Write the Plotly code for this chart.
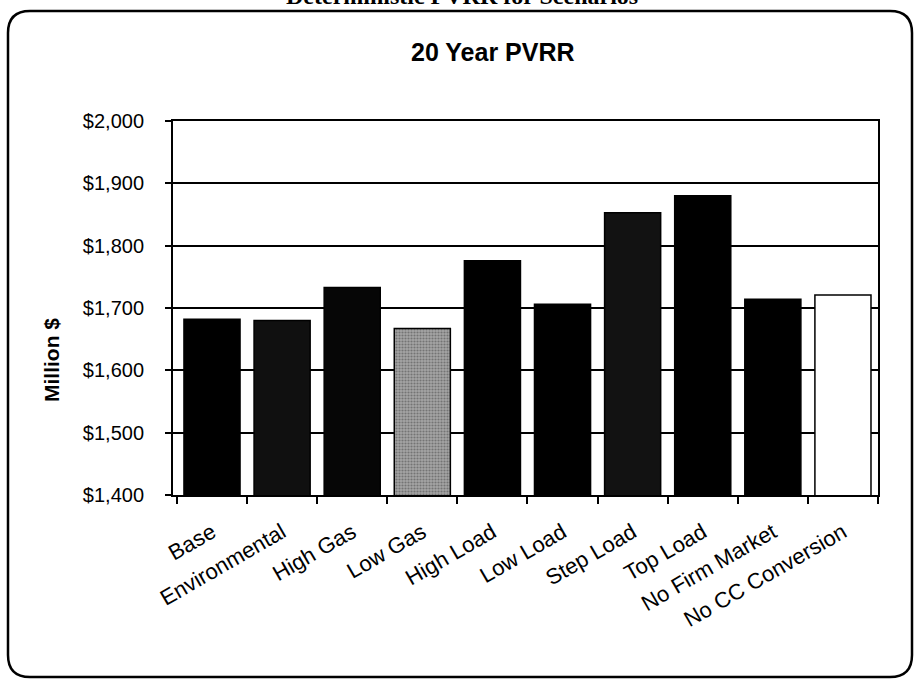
import plotly.graph_objects as go

# Scenario results (million $)
scenarios = ["Base", "Environmental", "High Gas", "Low Gas", "High Load",
             "Low Load", "Step Load", "Top Load", "No Firm Market", "No CC Conversion"]
pvrr = [1682, 1680, 1733, 1667, 1776, 1706, 1853, 1880, 1714, 1721]
bar_colors = ["#000000", "#101010", "#060606", "#a4a4a4", "#000000",
              "#000000", "#121212", "#000000", "#000000", "#ffffff"]
bar_patterns = ["", "", "", ".", "", "", "", "", "", ""]

y_ticks = [1400, 1500, 1600, 1700, 1800, 1900, 2000]
y_tick_text = ["$1,400", "$1,500", "$1,600", "$1,700", "$1,800", "$1,900", "$2,000"]

W, H = 917, 681
L, R, T, B = 173, 878, 121, 495  # plot area edges in pixels


def px(x):
    return (x - L) / (R - L)


def py(y):
    return (B - y) / (B - T)


fig = go.Figure()
fig.add_trace(go.Bar(
    x=scenarios, y=pvrr,
    marker=dict(color=bar_colors,
                line=dict(color="black", width=1.5),
                pattern=dict(shape=bar_patterns, fgcolor="#2a2a2a",
                             size=3, solidity=0.4)),
    showlegend=False,
))

# rounded frame around the chart
x0, x1, y0, y1, r = 8, 912, 11, 677, 22
path = (f"M {px(x0 + r)},{py(y0)} L {px(x1 - r)},{py(y0)} "
        f"Q {px(x1)},{py(y0)} {px(x1)},{py(y0 + r)} "
        f"L {px(x1)},{py(y1 - r)} Q {px(x1)},{py(y1)} {px(x1 - r)},{py(y1)} "
        f"L {px(x0 + r)},{py(y1)} Q {px(x0)},{py(y1)} {px(x0)},{py(y1 - r)} "
        f"L {px(x0)},{py(y0 + r)} Q {px(x0)},{py(y0)} {px(x0 + r)},{py(y0)} Z")
fig.add_shape(type="path", path=path, xref="paper", yref="paper",
              line=dict(color="black", width=2.5), layer="below")

font_main = "Arial, Liberation Sans, sans-serif"

fig.add_annotation(text="<b>Deterministic PVRR for Scenarios</b>",
                   xref="paper", yref="paper", x=px(462), y=py(11),
                   xanchor="center", yanchor="bottom", showarrow=False,
                   font=dict(family="Liberation Serif, Times New Roman, serif",
                             size=24, color="black"))
fig.add_annotation(text="<b>20 Year PVRR</b>",
                   xref="paper", yref="paper", x=px(493), y=py(52),
                   xanchor="center", yanchor="middle", showarrow=False,
                   font=dict(family=font_main, size=25, color="black"))
fig.add_annotation(text="<b>Million $</b>", textangle=-90,
                   xref="paper", yref="paper", x=px(51), y=py(360),
                   xanchor="center", yanchor="middle", showarrow=False,
                   font=dict(family=font_main, size=21, color="black"))

fig.update_layout(
    width=W, height=H,
    margin=dict(l=L, r=W - R, t=T, b=H - B, pad=0),
    paper_bgcolor="white", plot_bgcolor="white",
    bargap=0.2,
    font=dict(family=font_main, size=20, color="black"),
    xaxis=dict(tickangle=-30, showline=True, linecolor="black", linewidth=2,
               mirror=True, ticks="outside", ticklen=7, tickcolor="black",
               tickwidth=1.5, showgrid=False, ticklabelstandoff=14,
               tickson="boundaries", tickfont=dict(size=22)),
    yaxis=dict(range=[1400, 2000], tickvals=y_ticks, ticktext=y_tick_text,
               showline=True, linecolor="black", linewidth=2, mirror=True,
               ticks="outside", ticklen=6, tickcolor="black", tickwidth=1.5,
               showgrid=True, gridcolor="black", gridwidth=2,
               ticklabelstandoff=17, tickfont=dict(size=20), zeroline=False),
    yaxis2=dict(range=[1400, 2000], tickvals=y_ticks, overlaying="y",
                side="left", ticks="inside", ticklen=6, tickcolor="black",
                tickwidth=1.5, showticklabels=False, showgrid=False,
                showline=False, zeroline=False),
)
# invisible trace to activate the inner tick axis
fig.add_trace(go.Scatter(x=[scenarios[0]], y=[1400], yaxis="y2", mode="markers",
                         marker=dict(opacity=0), showlegend=False, hoverinfo="skip"))

fig.write_html("out.html")
